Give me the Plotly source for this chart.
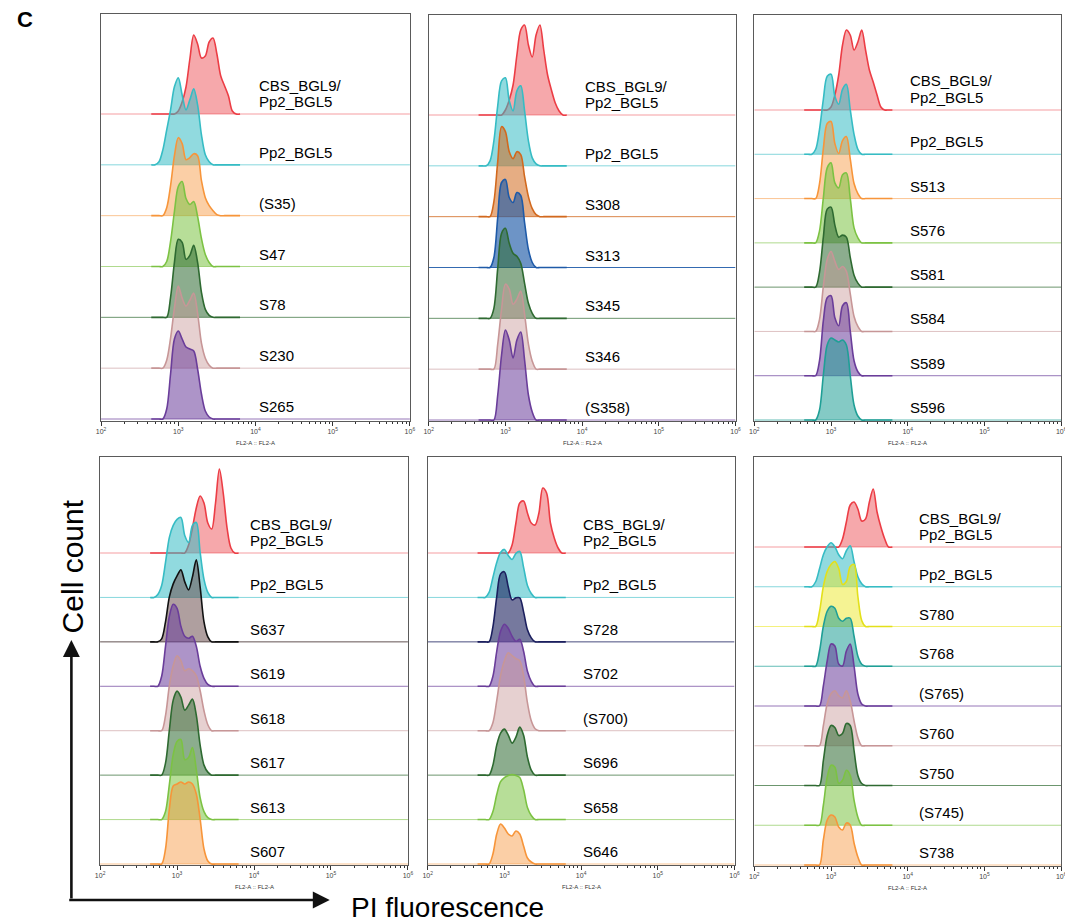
import plotly.graph_objects as go

W, H = 1073, 923
PAGE_MARGIN = 8  # default body margin of the written html page

# log10(PI fluorescence) bin centres shared by all histograms
LOG_BINS = [2.65, 2.70, 2.75, 2.80, 2.85, 2.90, 2.95, 3.00, 3.05, 3.10, 3.15, 3.20,
            3.25, 3.30, 3.35, 3.40, 3.45, 3.50, 3.55, 3.60, 3.65, 3.70, 3.75, 3.80]

# ---- panel 1 ----
P1_LABELS = ["CBS_BGL9/<br>Pp2_BGL5", "Pp2_BGL5", "(S35)", "S47", "S78", "S230", "S265"]
P1_COLORS = ["red", "teal", "orange", "green", "darkgreen", "rosy", "purple"]
P1_CBS = [0, 0, 0, 0, 0, 0, 0, 3, 12, 27, 55, 79, 70, 56, 58, 72, 76, 60, 38, 28, 18, 3, 0, 0]
P1_PP2 = [0, 0, 3, 15, 35, 55, 78, 87, 70, 55, 65, 76, 60, 30, 10, 3, 0, 0, 0, 0, 0, 0, 0, 0]
P1_S35 = [0, 0, 0, 0, 8, 30, 60, 78, 72, 56, 58, 62, 60, 35, 18, 10, 5, 1, 0, 0, 0, 0, 0, 0]
P1_S47 = [0, 0, 0, 0, 5, 25, 55, 80, 85, 68, 62, 65, 50, 28, 12, 4, 0, 0, 0, 0, 0, 0, 0, 0]
P1_S78 = [0, 0, 0, 0, 0, 20, 55, 78, 75, 58, 62, 72, 55, 25, 8, 2, 0, 0, 0, 0, 0, 0, 0, 0]
P1_S230 = [0, 0, 0, 0, 8, 30, 60, 82, 70, 62, 68, 75, 55, 25, 10, 3, 0, 0, 0, 0, 0, 0, 0, 0]
P1_S265 = [0, 0, 0, 0, 10, 45, 80, 88, 80, 72, 70, 68, 50, 25, 8, 2, 0, 0, 0, 0, 0, 0, 0, 0]

# ---- panel 2 ----
P2_LABELS = ["CBS_BGL9/<br>Pp2_BGL5", "Pp2_BGL5", "S308", "S313", "S345", "S346", "(S358)"]
P2_COLORS = ["red", "teal", "darkorange", "blue", "darkgreen", "rosy", "purple"]
P2_CBS = [0, 0, 0, 0, 0, 0, 0, 5, 15, 30, 60, 85, 90, 70, 58, 80, 90, 65, 40, 25, 12, 4, 0, 0]
P2_PP2 = [0, 0, 0, 5, 25, 60, 85, 88, 65, 55, 75, 80, 55, 25, 8, 2, 0, 0, 0, 0, 0, 0, 0, 0]
P2_S308 = [0, 0, 0, 0, 15, 55, 90, 85, 65, 58, 65, 62, 40, 20, 8, 2, 0, 0, 0, 0, 0, 0, 0, 0]
P2_S313 = [0, 0, 0, 0, 10, 50, 85, 88, 70, 65, 75, 72, 45, 18, 5, 0, 0, 0, 0, 0, 0, 0, 0, 0]
P2_S345 = [0, 0, 0, 0, 10, 50, 85, 90, 75, 65, 62, 55, 35, 15, 5, 0, 0, 0, 0, 0, 0, 0, 0, 0]
P2_S346 = [0, 0, 0, 0, 0, 25, 60, 85, 80, 65, 70, 78, 55, 25, 8, 0, 0, 0, 0, 0, 0, 0, 0, 0]
P2_S358 = [0, 0, 0, 0, 0, 25, 65, 90, 80, 62, 80, 88, 60, 25, 8, 0, 0, 0, 0, 0, 0, 0, 0, 0]

# ---- panel 3 ----
P3_LABELS = ["CBS_BGL9/<br>Pp2_BGL5", "Pp2_BGL5", "S513", "S576", "S581", "S584", "S589", "S596"]
P3_COLORS = ["red", "teal", "orange", "green", "darkgreen", "rosy", "purple", "teal2"]
P3_CBS = [0, 0, 0, 0, 0, 0, 0, 3, 15, 35, 65, 80, 75, 60, 68, 80, 60, 40, 28, 15, 3, 0, 0, 0]
P3_PP2 = [0, 0, 0, 5, 25, 55, 78, 80, 58, 50, 65, 70, 45, 20, 5, 0, 0, 0, 0, 0, 0, 0, 0, 0]
P3_S513 = [0, 0, 0, 0, 15, 50, 75, 77, 55, 45, 58, 62, 40, 15, 5, 0, 0, 0, 0, 0, 0, 0, 0, 0]
P3_S576 = [0, 0, 0, 0, 12, 45, 75, 80, 60, 55, 68, 70, 45, 15, 5, 0, 0, 0, 0, 0, 0, 0, 0, 0]
P3_S581 = [0, 0, 0, 0, 15, 50, 78, 80, 62, 50, 52, 50, 30, 12, 4, 0, 0, 0, 0, 0, 0, 0, 0, 0]
P3_S584 = [0, 0, 0, 0, 12, 45, 72, 80, 70, 62, 65, 60, 38, 15, 5, 0, 0, 0, 0, 0, 0, 0, 0, 0]
P3_S589 = [0, 0, 0, 0, 15, 55, 78, 80, 58, 50, 70, 73, 45, 15, 4, 0, 0, 0, 0, 0, 0, 0, 0, 0]
P3_S596 = [0, 0, 0, 0, 10, 45, 75, 82, 80, 78, 80, 75, 45, 15, 4, 0, 0, 0, 0, 0, 0, 0, 0, 0]

# ---- panel 4 ----
P4_LABELS = ["CBS_BGL9/<br>Pp2_BGL5", "Pp2_BGL5", "S637", "S619", "S618", "S617", "S613", "S607"]
P4_COLORS = ["red", "teal", "black", "purple", "rosy", "darkgreen", "green", "orange"]
P4_CBS = [0, 0, 0, 0, 0, 0, 0, 0, 0, 0, 8, 25, 45, 57, 50, 30, 24, 50, 84, 60, 25, 5, 0, 0]
P4_PP2 = [0, 0, 3, 12, 35, 60, 72, 78, 80, 62, 55, 72, 75, 45, 18, 5, 0, 0, 0, 0, 0, 0, 0, 0]
P4_S637 = [0, 0, 0, 3, 20, 45, 58, 66, 72, 60, 52, 65, 82, 55, 20, 5, 0, 0, 0, 0, 0, 0, 0, 0]
P4_S619 = [0, 0, 0, 10, 40, 70, 82, 78, 60, 50, 48, 50, 40, 20, 8, 2, 0, 0, 0, 0, 0, 0, 0, 0]
P4_S618 = [0, 0, 0, 0, 15, 45, 65, 75, 70, 60, 62, 60, 55, 40, 20, 6, 0, 0, 0, 0, 0, 0, 0, 0]
P4_S617 = [0, 0, 0, 0, 12, 45, 75, 84, 78, 65, 70, 76, 60, 30, 10, 3, 0, 0, 0, 0, 0, 0, 0, 0]
P4_S613 = [0, 0, 0, 0, 8, 35, 65, 78, 80, 60, 62, 72, 50, 22, 8, 2, 0, 0, 0, 0, 0, 0, 0, 0]
P4_S607 = [0, 0, 0, 0, 15, 55, 78, 80, 82, 80, 82, 80, 70, 45, 15, 3, 0, 0, 0, 0, 0, 0, 0, 0]

# ---- panel 5 ----
P5_LABELS = ["CBS_BGL9/<br>Pp2_BGL5", "Pp2_BGL5", "S728", "S702", "(S700)", "S696", "S658", "S646"]
P5_COLORS = ["red", "teal", "navy", "purple", "rosy", "darkgreen", "green", "orange"]
P5_CBS = [0, 0, 0, 0, 0, 0, 0, 0, 0, 8, 30, 50, 52, 40, 30, 28, 40, 65, 60, 30, 15, 5, 0, 0]
P5_PP2 = [0, 0, 0, 5, 20, 35, 45, 48, 42, 38, 44, 46, 30, 12, 4, 0, 0, 0, 0, 0, 0, 0, 0, 0]
P5_S728 = [0, 0, 0, 0, 15, 45, 68, 70, 55, 42, 44, 44, 30, 12, 4, 0, 0, 0, 0, 0, 0, 0, 0, 0]
P5_S702 = [0, 0, 0, 0, 10, 35, 55, 62, 58, 50, 45, 47, 35, 15, 5, 0, 0, 0, 0, 0, 0, 0, 0, 0]
P5_S700 = [0, 0, 0, 0, 8, 30, 55, 70, 78, 75, 72, 70, 55, 28, 10, 2, 0, 0, 0, 0, 0, 0, 0, 0]
P5_S696 = [0, 0, 0, 0, 10, 30, 42, 46, 40, 32, 38, 48, 40, 18, 5, 0, 0, 0, 0, 0, 0, 0, 0, 0]
P5_S658 = [0, 0, 0, 0, 8, 25, 38, 42, 44, 45, 44, 42, 30, 12, 4, 0, 0, 0, 0, 0, 0, 0, 0, 0]
P5_S646 = [0, 0, 0, 0, 10, 30, 40, 36, 30, 28, 33, 30, 18, 6, 2, 0, 0, 0, 0, 0, 0, 0, 0, 0]

# ---- panel 6 ----
P6_LABELS = ["CBS_BGL9/<br>Pp2_BGL5", "Pp2_BGL5", "S780", "S768", "(S765)", "S760", "S750", "(S745)", "S738"]
P6_COLORS = ["red", "teal", "yellow", "teal2", "purple", "rosy", "darkgreen", "green", "orange"]
P6_CBS = [0, 0, 0, 0, 0, 0, 0, 0, 0, 0, 8, 25, 42, 45, 38, 26, 28, 45, 58, 35, 20, 8, 0, 0]
P6_PP2 = [0, 0, 0, 5, 18, 32, 40, 44, 40, 32, 28, 36, 41, 25, 10, 3, 0, 0, 0, 0, 0, 0, 0, 0]
P6_S780 = [0, 0, 0, 0, 15, 40, 55, 62, 65, 58, 42, 45, 60, 62, 30, 6, 0, 0, 0, 0, 0, 0, 0, 0]
P6_S768 = [0, 0, 0, 0, 15, 40, 55, 60, 58, 48, 45, 48, 48, 30, 10, 2, 0, 0, 0, 0, 0, 0, 0, 0]
P6_S765 = [0, 0, 0, 0, 0, 20, 45, 62, 60, 42, 40, 55, 62, 40, 12, 2, 0, 0, 0, 0, 0, 0, 0, 0]
P6_S760 = [0, 0, 0, 0, 0, 20, 42, 52, 55, 50, 48, 55, 45, 25, 8, 0, 0, 0, 0, 0, 0, 0, 0, 0]
P6_S750 = [0, 0, 0, 0, 0, 25, 50, 60, 58, 50, 52, 62, 60, 35, 10, 2, 0, 0, 0, 0, 0, 0, 0, 0]
P6_S745 = [0, 0, 0, 0, 0, 20, 48, 60, 58, 42, 45, 55, 50, 25, 8, 0, 0, 0, 0, 0, 0, 0, 0, 0]
P6_S738 = [0, 0, 0, 0, 0, 25, 45, 50, 48, 38, 35, 42, 40, 22, 8, 0, 0, 0, 0, 0, 0, 0, 0, 0]

TICK_VALUES = [1e2, 1e3, 1e4, 1e5, 1e6]
TICK_LABELS = ["10<sup>2</sup>", "10<sup>3</sup>", "10<sup>4</sup>", "10<sup>5</sup>", "10<sup>6</sup>"]

# ---------------- styles ----------------
PALETTE = {
    "red": ("#ec3d45", "rgba(236,61,69,0.45)", "rgba(236,61,69,0.5)"),
    "teal": ("#36bcc4", "rgba(54,188,196,0.55)", "rgba(54,188,196,0.6)"),
    "orange": ("#f7953a", "rgba(247,149,58,0.45)", "rgba(247,149,58,0.55)"),
    "green": ("#7cc243", "rgba(124,194,67,0.55)", "rgba(124,194,67,0.6)"),
    "darkgreen": ("#2e6a31", "rgba(46,106,49,0.55)", "rgba(46,106,49,0.7)"),
    "rosy": ("#c79697", "rgba(199,150,151,0.45)", "rgba(199,150,151,0.6)"),
    "purple": ("#6a3d9a", "rgba(106,61,154,0.55)", "rgba(106,61,154,0.7)"),
    "darkorange": ("#d2691e", "rgba(210,105,30,0.55)", "rgba(210,105,30,0.8)"),
    "blue": ("#1e5aa8", "rgba(30,90,168,0.65)", "rgba(30,90,168,0.9)"),
    "teal2": ("#1f9f96", "rgba(31,159,150,0.55)", "rgba(31,159,150,0.7)"),
    "black": ("#111111", "rgba(110,80,80,0.55)", "rgba(60,40,40,0.8)"),
    "navy": ("#1b1f5e", "rgba(27,31,94,0.6)", "rgba(27,31,94,0.8)"),
    "yellow": ("#e3e01a", "rgba(236,232,40,0.5)", "rgba(236,232,40,0.6)"),
}

# panel geometry in page pixels: box (left, right, top, bottom), baselines, label x
PANELS = [
    dict(box=(97, 409, 14, 421), base=(114, 419), lx=255,
         labels=P1_LABELS, colors=P1_COLORS,
         series=[P1_CBS, P1_PP2, P1_S35, P1_S47, P1_S78, P1_S230, P1_S265]),
    dict(box=(428, 738, 15, 421), base=(115, 420), lx=584,
         labels=P2_LABELS, colors=P2_COLORS,
         series=[P2_CBS, P2_PP2, P2_S308, P2_S313, P2_S345, P2_S346, P2_S358]),
    dict(box=(757, 1067, 15, 421), base=(110, 420), lx=912,
         labels=P3_LABELS, colors=P3_COLORS,
         series=[P3_CBS, P3_PP2, P3_S513, P3_S576, P3_S581, P3_S584, P3_S589, P3_S596]),
    dict(box=(96, 407, 457, 865), base=(553, 864), lx=245,
         labels=P4_LABELS, colors=P4_COLORS,
         series=[P4_CBS, P4_PP2, P4_S637, P4_S619, P4_S618, P4_S617, P4_S613, P4_S607]),
    dict(box=(427, 737, 457, 865), base=(553, 864), lx=582,
         labels=P5_LABELS, colors=P5_COLORS,
         series=[P5_CBS, P5_PP2, P5_S728, P5_S702, P5_S700, P5_S696, P5_S658, P5_S646]),
    dict(box=(757, 1067, 457, 866), base=(547, 865), lx=921,
         labels=P6_LABELS, colors=P6_COLORS,
         series=[P6_CBS, P6_PP2, P6_S780, P6_S768, P6_S765, P6_S760, P6_S750, P6_S745, P6_S738]),
]

FONT = "Liberation Sans, Arial, sans-serif"
MINOR_TICKS = [k * 10 ** d for d in range(2, 6) for k in range(2, 10)]
HIST_X = [10 ** v for v in LOG_BINS]


def px(x):
    return (x - PAGE_MARGIN) / W


def py(y):
    return 1 - (y - PAGE_MARGIN) / H


fig = go.Figure()
layout = dict(
    width=W, height=H, margin=dict(l=0, r=0, t=0, b=0),
    paper_bgcolor="white", plot_bgcolor="white", showlegend=False,
    font=dict(family=FONT, color="black"),
)
annotations = []

for i, p in enumerate(PANELS, start=1):
    left, right, top, bottom = p["box"]
    b0, b1 = p["base"]
    n = len(p["series"])
    step = (b1 - b0) / (n - 1)
    xa = "x" if i == 1 else f"x{i}"
    ya = "y" if i == 1 else f"y{i}"
    layout["xaxis" if i == 1 else f"xaxis{i}"] = dict(
        type="log", range=[2, 6], domain=[px(left), px(right)], anchor=ya,
        showline=True, mirror=True, linecolor="#5a5a5a", linewidth=1,
        showgrid=False, zeroline=False, ticks="outside", ticklen=4, tickwidth=1,
        tickcolor="#333", tickvals=TICK_VALUES, ticktext=TICK_LABELS,
        tickfont=dict(size=7, color="#444", family=FONT),
        minor=dict(tickmode="array", tickvals=MINOR_TICKS, ticks="outside",
                   ticklen=2, tickcolor="#333", showgrid=False),
    )
    layout["yaxis" if i == 1 else f"yaxis{i}"] = dict(
        range=[0, bottom - top], domain=[py(bottom), py(top)], anchor=xa,
        showline=True, mirror=True, linecolor="#5a5a5a", linewidth=1,
        showgrid=False, zeroline=False, showticklabels=False, ticks="",
    )
    for k, (vals, lab, ck) in enumerate(zip(p["series"], p["labels"], p["colors"])):
        base_px = b0 + k * step
        yb = bottom - base_px
        line_c, fill_c, base_c = PALETTE[ck]
        fig.add_trace(go.Scatter(
            x=[1e2, 1e6], y=[yb, yb], mode="lines", xaxis=xa, yaxis=ya,
            line=dict(color=base_c, width=1), hoverinfo="skip"))
        fig.add_trace(go.Scatter(
            x=HIST_X, y=[yb + v for v in vals], mode="lines", xaxis=xa, yaxis=ya,
            fill="tonexty", fillcolor=fill_c,
            line=dict(color=line_c, width=1.6, shape="spline", smoothing=0.9),
            name=lab.replace("<br>", " ")))
        # each label line is placed separately (tighter line spacing)
        lines = lab.split("<br>")
        for j, txt in enumerate(reversed(lines)):
            annotations.append(dict(
                x=px(p["lx"]), y=py(base_px - 2 - 16.5 * j), xref="paper", yref="paper",
                text=txt, showarrow=False, xanchor="left", yanchor="bottom", align="left",
                font=dict(size=15, family=FONT, color="black")))
    annotations.append(dict(
        x=px((left + right) / 2), y=py(bottom + 22), xref="paper", yref="paper",
        text="FL2-A :: FL2-A", showarrow=False, xanchor="center", yanchor="middle",
        font=dict(size=6, family=FONT, color="#333")))

# panel tag and global axis labels
annotations += [
    dict(x=px(20), y=py(20), xref="paper", yref="paper", text="<b>C</b>",
         showarrow=False, xanchor="center", yanchor="middle",
         font=dict(size=22, family=FONT, color="black")),
    dict(x=px(68), y=py(566), xref="paper", yref="paper", text="Cell count",
         showarrow=False, textangle=-90, xanchor="center", yanchor="middle",
         font=dict(size=30, family=FONT, color="black")),
    dict(x=px(347), y=py(907), xref="paper", yref="paper", text="PI fluorescence",
         showarrow=False, xanchor="left", yanchor="middle",
         font=dict(size=28, family=FONT, color="black")),
    dict(x=px(67), y=py(640), xref="paper", yref="paper", text="",
         showarrow=True, ax=0, ay=260, axref="pixel", ayref="pixel",
         arrowhead=2, arrowsize=1.3, arrowwidth=2.6, arrowcolor="#111"),
    dict(x=px(328), y=py(900), xref="paper", yref="paper", text="",
         showarrow=True, ax=-262, ay=0, axref="pixel", ayref="pixel",
         arrowhead=2, arrowsize=1.3, arrowwidth=2.6, arrowcolor="#111"),
]
layout["annotations"] = annotations
fig.update_layout(**layout)
fig.write_html("out.html")
